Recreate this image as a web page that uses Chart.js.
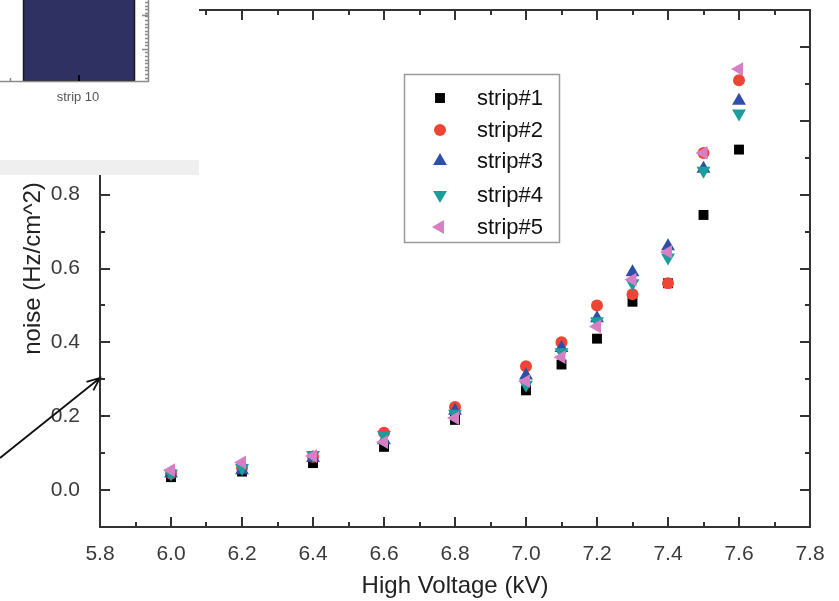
<!DOCTYPE html>
<html lang="en">
<head>
<meta charset="UTF-8">
<title>Noise vs High Voltage</title>
<script src="https://cdn.jsdelivr.net/npm/chart.js"></script>
<style>
  html, body { margin: 0; padding: 0; background: #fff; }
  #wrap { width: 839px; height: 601px; }
</style>
</head>
<body>
<div id="wrap"><canvas id="grafico" width="839" height="601"></canvas></div>
<script>
// measured noise rate per strip (Hz/cm^2) at each HV setting (kV)
const voltages = [6.0, 6.2, 6.4, 6.6, 6.8, 7.0, 7.1, 7.2, 7.3, 7.4, 7.5, 7.6];
const strip1 = [0.035, 0.050, 0.073, 0.117, 0.190, 0.270, 0.340, 0.410, 0.510, 0.560, 0.745, 0.922];
const strip2 = [0.045, 0.060, 0.090, 0.155, 0.225, 0.335, 0.400, 0.500, 0.530, 0.560, 0.913, 1.110];
const strip3 = [0.045, 0.054, 0.087, 0.135, 0.215, 0.310, 0.385, 0.465, 0.590, 0.660, 0.870, 1.054];
const strip4 = [0.045, 0.060, 0.095, 0.149, 0.207, 0.285, 0.373, 0.457, 0.560, 0.630, 0.865, 1.020];
const strip5 = [0.054, 0.075, 0.092, 0.130, 0.195, 0.295, 0.360, 0.443, 0.570, 0.645, 0.913, 1.140];

const stripNames = ['strip#1', 'strip#2', 'strip#3', 'strip#4', 'strip#5'];
const stripColors = ['#000000', '#ef4535', '#2f4ea8', '#1a9e9b', '#d67fc5'];
const stripStyles = ['rect', 'circle', 'triangle', 'triangle', 'triangle'];
const stripRotation = [0, 0, 0, 180, -90];
const stripRadius = [7, 6, 8, 8, 8];

const xMajor = [5.8, 6.0, 6.2, 6.4, 6.6, 6.8, 7.0, 7.2, 7.4, 7.6, 7.8];
const xMinor = [5.9, 6.1, 6.3, 6.5, 6.7, 6.9, 7.1, 7.3, 7.5, 7.7];
const yMajor = [0.0, 0.2, 0.4, 0.6, 0.8, 1.0, 1.2];
const yMinor = [0.1, 0.3, 0.5, 0.7, 0.9, 1.1];

const FONT = "'Liberation Sans', Arial, sans-serif";
Chart.defaults.font.family = FONT;

const series = [strip1, strip2, strip3, strip4, strip5];
const datasets = series.map((vals, i) => ({
  label: stripNames[i],
  data: voltages.map((v, j) => ({ x: v, y: vals[j] })),
  backgroundColor: stripColors[i],
  borderColor: stripColors[i],
  borderWidth: 0,
  pointStyle: stripStyles[i],
  pointRotation: stripRotation[i],
  pointRadius: stripRadius[i],
  pointHoverRadius: stripRadius[i],
  order: series.length - i   // strip#5 ends up on top
}));

// box around the plot with inward major/minor ticks on all four sides
const frame = {
  id: 'frame',
  beforeDatasetsDraw(chart) {
    const { ctx, chartArea: a, scales: { x, y } } = chart;
    ctx.save();
    ctx.strokeStyle = '#333';
    ctx.lineWidth = 2;
    ctx.strokeRect(a.left, a.top, a.right - a.left, a.bottom - a.top);
    ctx.beginPath();
    const tickX = (vals, len) => vals.forEach(v => {
      const px = Math.round(x.getPixelForValue(v));
      ctx.moveTo(px, a.bottom); ctx.lineTo(px, a.bottom - len);
      ctx.moveTo(px, a.top); ctx.lineTo(px, a.top + len);
    });
    const tickY = (vals, len) => vals.forEach(v => {
      const py = Math.round(y.getPixelForValue(v));
      ctx.moveTo(a.left, py); ctx.lineTo(a.left + len, py);
      ctx.moveTo(a.right, py); ctx.lineTo(a.right - len, py);
    });
    tickX(xMajor, 10); tickX(xMinor, 5);
    tickY(yMajor, 10); tickY(yMinor, 5);
    ctx.stroke();
    ctx.restore();
  }
};

// legend box, the pasted detector inset and the pointer arrow
const extras = {
  id: 'extras',
  afterDraw(chart) {
    const ctx = chart.ctx;
    ctx.save();

    // legend
    ctx.fillStyle = '#fff';
    ctx.fillRect(404, 74, 156, 169);
    ctx.strokeStyle = '#9a9a9a';
    ctx.lineWidth = 1.5;
    ctx.strokeRect(404.5, 74.5, 155, 168);
    const rows = [98, 130, 161, 195, 227];
    ctx.font = '22px ' + FONT;
    ctx.textAlign = 'left';
    ctx.textBaseline = 'middle';
    stripNames.forEach((name, i) => {
      ctx.fillStyle = stripColors[i];
      Chart.helpers.drawPoint(ctx, {
        pointStyle: stripStyles[i], radius: stripRadius[i],
        rotation: stripRotation[i], borderWidth: 0
      }, 440, rows[i]);
      ctx.fillStyle = '#111';
      ctx.fillText(name, 477, rows[i] + 1);
    });

    // inset picture in the top-left corner
    ctx.fillStyle = '#fff';
    ctx.fillRect(0, 0, 199, 160);
    ctx.fillStyle = '#efefef';
    ctx.fillRect(0, 160, 199, 15);
    ctx.fillStyle = '#2e3162';
    ctx.fillRect(23, 0, 112, 81);
    ctx.strokeStyle = '#1a1a1a';
    ctx.lineWidth = 1.5;
    ctx.strokeRect(23.5, -2, 111, 83);
    ctx.strokeStyle = '#8a8a8a';
    ctx.beginPath();
    ctx.moveTo(0, 81.5); ctx.lineTo(149, 81.5);
    ctx.moveTo(148.5, 0); ctx.lineTo(148.5, 82);
    ctx.moveTo(10.5, 78); ctx.lineTo(10.5, 81);
    for (let t = 2; t < 80; t += 3.6) {
      ctx.moveTo(145, Math.round(t) + 0.5); ctx.lineTo(148, Math.round(t) + 0.5);
    }
    ctx.moveTo(142, 15.5); ctx.lineTo(148, 15.5);
    ctx.moveTo(142, 49.5); ctx.lineTo(148, 49.5);
    ctx.stroke();
    ctx.strokeStyle = '#000';
    ctx.lineWidth = 2;
    ctx.beginPath();
    ctx.moveTo(79, 75); ctx.lineTo(79, 81);
    ctx.stroke();
    ctx.fillStyle = '#555';
    ctx.font = '13px ' + FONT;
    ctx.textAlign = 'center';
    ctx.fillText('strip 10', 78, 97);

    // arrow pointing at the axis
    const x0 = 0, y0 = 458, x1 = 100, y1 = 378;
    const ang = Math.atan2(y1 - y0, x1 - x0);
    ctx.strokeStyle = '#111';
    ctx.lineWidth = 1.8;
    ctx.beginPath();
    ctx.moveTo(x0, y0); ctx.lineTo(x1, y1);
    ctx.moveTo(x1 - 14 * Math.cos(ang - 0.4), y1 - 14 * Math.sin(ang - 0.4));
    ctx.lineTo(x1, y1);
    ctx.lineTo(x1 - 14 * Math.cos(ang + 0.4), y1 - 14 * Math.sin(ang + 0.4));
    ctx.stroke();

    ctx.restore();
  }
};

const ctx = document.getElementById('grafico').getContext('2d');
new Chart(ctx, {
  type: 'scatter',
  data: { datasets },
  plugins: [frame, extras],
  options: {
    responsive: false,
    animation: false,
    layout: { padding: { top: 10, right: 29, left: 0, bottom: 0 } },
    plugins: { legend: { display: false }, tooltip: { enabled: false } },
    scales: {
      x: {
        type: 'linear', min: 5.8, max: 7.8,
        afterBuildTicks: s => { s.ticks = xMajor.map(v => ({ value: v })); },
        afterFit: s => { s.height = 74; s.paddingLeft = 0; s.paddingRight = 0; },
        grid: { display: false },
        border: { display: false },
        ticks: {
          color: '#3a3a3a', font: { size: 21 }, padding: 7,
          maxRotation: 0, autoSkip: false,
          callback: v => Number(v).toFixed(1)
        },
        title: {
          display: true, text: 'High Voltage (kV)', color: '#222',
          font: { size: 24 }, padding: { top: 0, bottom: 0 }
        }
      },
      y: {
        type: 'linear', min: -0.1, max: 1.3,
        afterBuildTicks: s => { s.ticks = yMajor.map(v => ({ value: v })); },
        afterFit: s => { s.width = 100; s.paddingTop = 0; s.paddingBottom = 0; },
        grid: { display: false },
        border: { display: false },
        ticks: {
          color: '#3a3a3a', font: { size: 21 }, padding: 12,
          callback: v => Number(v).toFixed(1)
        },
        title: {
          display: true, text: 'noise (Hz/cm^2)', color: '#222',
          font: { size: 24 }, padding: { top: 19, bottom: 0 }
        }
      }
    }
  }
});
</script>
</body>
</html>
